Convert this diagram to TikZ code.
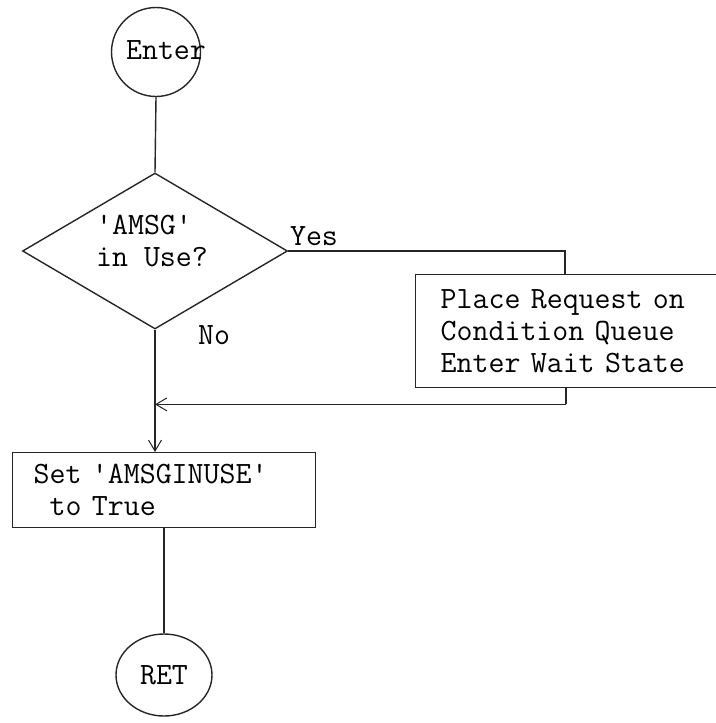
\documentclass[tikz,border=0pt]{standalone}
\usetikzlibrary{shapes.geometric,arrows.meta,calc}
\begin{document}
\begin{tikzpicture}[x=1pt,y=-1pt,
  ln/.style={draw=black!85,line width=1.4pt},
  txt/.style={font=\fontsize{31}{32}\selectfont\ttfamily,inner sep=0pt},
  arr/.style={ln,-{Straight Barb[length=11pt,width=13pt,line width=1pt]}},
  boxstyle/.style={ln,rectangle,align=left,font=\fontsize{31}{32}\selectfont\ttfamily,anchor=north west}
]
\useasboundingbox (0,0) rectangle (715,723);
% Enter
\node[ln,circle,minimum size=89pt,inner sep=0pt] (enter) at (156,52) {};
\node[txt] (entertxt) at (166,50) {Enter};
% Decision
\node[ln,diamond,minimum width=265pt,minimum height=156pt,inner sep=0pt] (dia) at (155,251) {};
\node[txt,align=left] (diatxt) at (152,241) {\textquotesingle AMSG\textquotesingle\\in Use?};
\node[txt] (yes) at (314,236) {Yes};
\node[txt] (no) at (214,335) {No};
% Place request box
\node[boxstyle,minimum width=320pt,minimum height=113pt,text width=275pt,inner xsep=25pt,inner ysep=0pt] (place) at (415,274)
  {Place Request on\\Condition Queue\\Enter Wait State};
% Set box
\node[boxstyle,minimum width=303pt,minimum height=75pt,text width=261pt,inner xsep=21pt,inner ysep=0pt] (setbox) at (12,452)
  {Set \textquotesingle AMSGINUSE\textquotesingle\\\hspace*{0.514em}to True};
% RET
\node[ln,ellipse,minimum width=96pt,minimum height=82pt,inner sep=0pt,font=\fontsize{31}{32}\selectfont\ttfamily] (ret) at (164,675) {RET};
% connectors
\draw[ln] (enter.south) -- (dia.north);
\coordinate (yc) at ([xshift=150pt]place.north west);
\draw[ln] (dia.east) -- (dia.east -| yc) -- (yc);
\coordinate (rc) at ([xshift=151pt,yshift=-16pt]place.south west);
\draw[ln] (place.south -| rc) -- (rc);
\draw[arr] (rc) -- (rc -| dia.south);
\draw[arr] (dia.south) -- (dia.south |- setbox.north);
\draw[ln] (ret.north |- setbox.south) -- (ret.north);
\end{tikzpicture}
\end{document}
